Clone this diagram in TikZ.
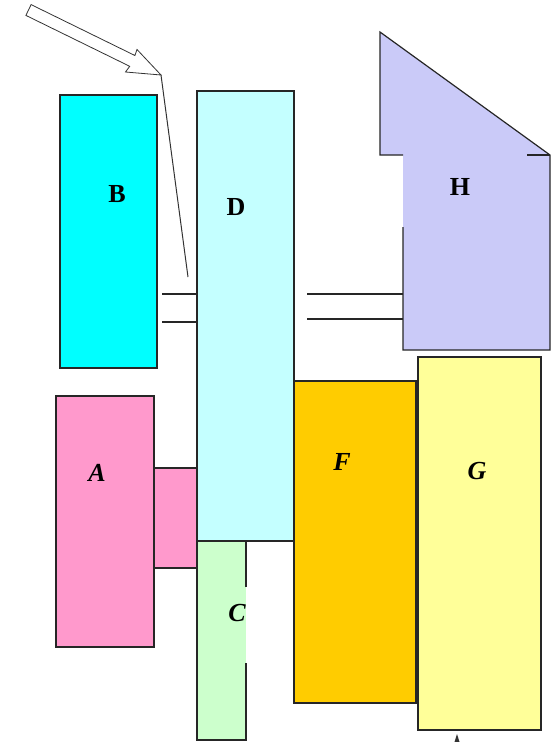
\documentclass[tikz,border=0pt]{standalone}
\usepackage{fontspec}
\setmainfont{Liberation Serif}
\begin{document}
\begin{tikzpicture}[x=1pt,y=-1pt,
  edge/.style={draw=black!85,line width=1.2pt},
  lbl/.style={font=\fontsize{26}{26}\selectfont\bfseries,inner sep=0pt},
  ilbl/.style={font=\fontsize{26}{26}\selectfont\bfseries\itshape,inner sep=0pt}]
\definecolor{cB}{HTML}{00FFFF}
\definecolor{cD}{HTML}{C4FFFF}
\definecolor{cH}{HTML}{CACAF8}
\definecolor{cA}{HTML}{FF99CC}
\definecolor{cC}{HTML}{CCFFCC}
\definecolor{cF}{HTML}{FFCC00}
\definecolor{cG}{HTML}{FFFF99}
\useasboundingbox (0,0) rectangle (558,742);
% fills
\fill[cB] (60,95) rectangle (157,368);
\fill[cD] (197,91) rectangle (294,541);
\fill[cH] (380,32) -- (550,155) -- (550,350) -- (403,350) -- (403,155) -- (380,155) -- cycle;
\fill[cA] (56,396) rectangle (154,647);
\fill[cA] (154,468) rectangle (197,568);
\fill[cC] (197,541) rectangle (246,740);
\fill[cF] (294,381) rectangle (416,703);
\fill[cG] (418,357) rectangle (541,730);
% outlines
\draw[edge] (60,95) rectangle (157,368);
\draw[edge] (197,91) rectangle (294,541);
\draw[edge] (403,155) -- (380,155) -- (380,32) -- (550,155) -- (550,350) -- (403,350) -- (403,227);
\draw[edge] (527,155) -- (550,155);
\draw[edge] (56,396) rectangle (154,647);
\draw[edge] (154,468) -- (197,468) (154,568) -- (197,568);
\draw[edge] (246,587) -- (246,541) (197,541) -- (197,740) -- (246,740) -- (246,663);
\draw[edge] (294,381) rectangle (416,703);
\draw[edge] (418,357) rectangle (541,730);
% shafts
\draw[edge] (162,294) -- (197,294) (162,322) -- (197,322);
\draw[edge] (307,294) -- (403,294) (307,319) -- (403,319);
% hollow arrow
\coordinate (tip) at (161,75);
\draw[black!80,line width=0.8pt,line join=miter] (31.1,4.6) -- (134.9,55.5) -- (137,49.5) -- (tip) -- (125.5,72) -- (129.7,66.3) -- (25.9,15.4) -- cycle;
\coordinate (pend) at (188,277);
\draw[black!80,line width=1pt] (tip) -- (pend);
% small mark at bottom
\fill[black!80] (454.5,742) -- (457,734) -- (459.5,742) -- cycle;
% labels
\node[lbl] (lB) at (117,194) {B};
\node[lbl] (lD) at (236,207) {D};
\node[lbl] (lH) at (460,187) {H};
\node[ilbl] (lA) at (97,473) {A};
\node[ilbl] (lF) at (342,462) {F};
\node[ilbl] (lG) at (477,471) {G};
\node[ilbl] (lC) at (237,613) {C};
\end{tikzpicture}
\end{document}
